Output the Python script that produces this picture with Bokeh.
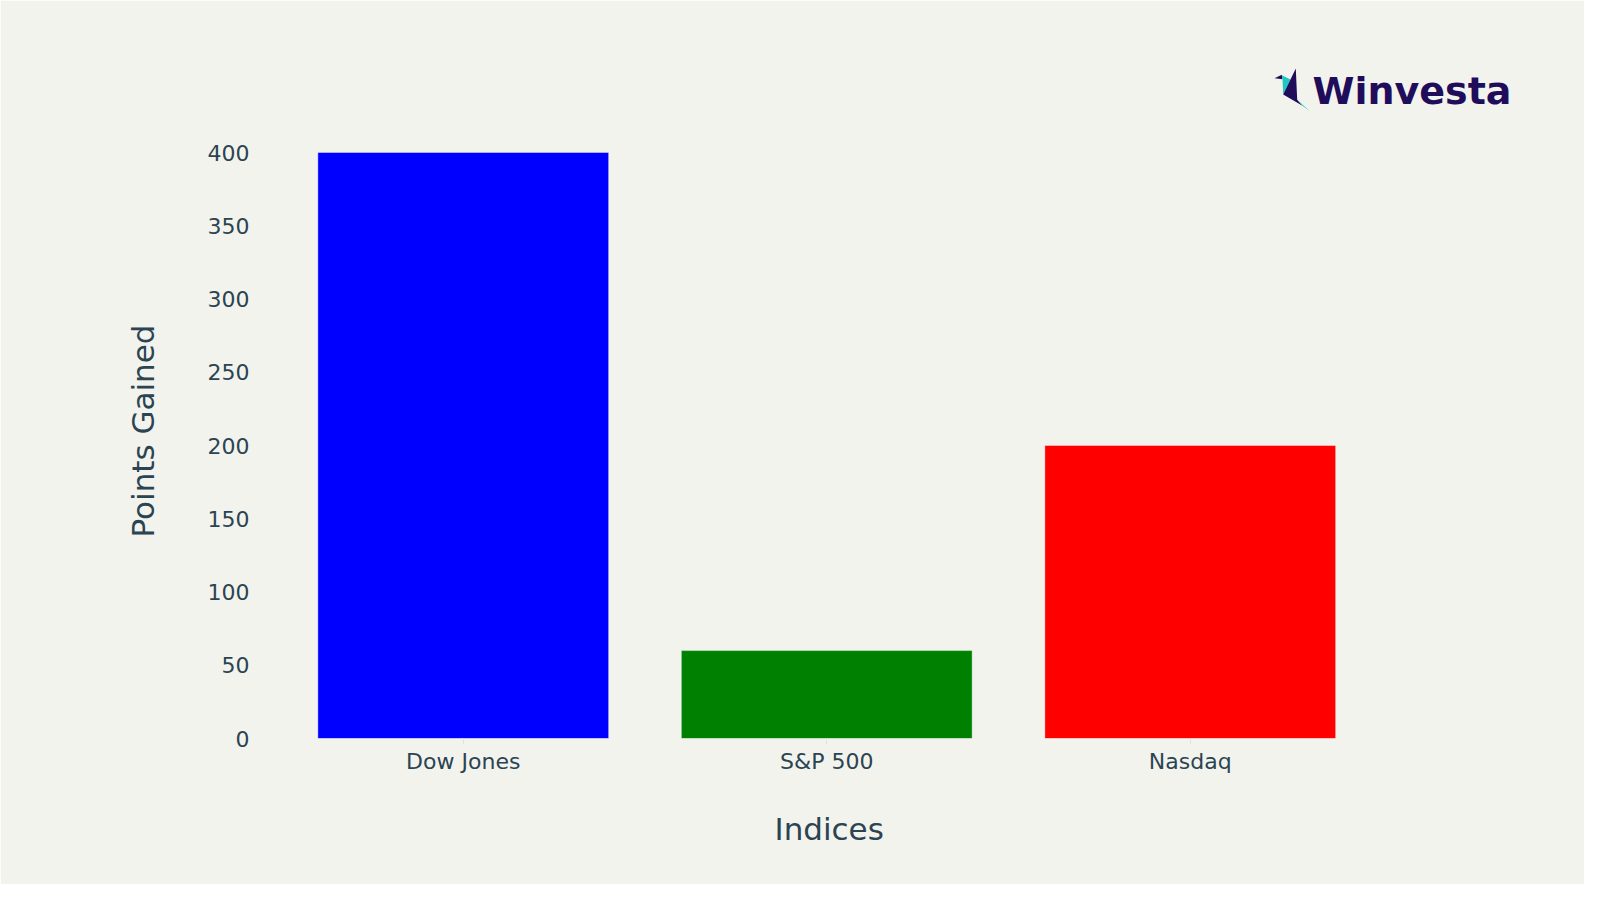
from bokeh.plotting import figure
from bokeh.models import Range1d, FixedTicker, Label, PolyAnnotation, ColumnDataSource, Title
from bokeh.embed import file_html
from bokeh.resources import INLINE

# ---- data ----
categories = ["Dow Jones", "S&P 500", "Nasdaq"]
points_gained = [400, 60, 200]
bar_colors = ["#0000ff", "#008000", "#ff0000"]
y_ticks = [0, 50, 100, 150, 200, 250, 300, 350, 400]
x_title = "Indices"
y_title = "Points Gained"
brand = "Winvesta"

# ---- style ----
BG = "#f3f3ee"
TEXT = "#2b4452"
NAVY = "#1f0d5b"
TEAL = "#1fc6c4"
FONT = "DejaVu Sans"

W, H = 1584, 884
FRAME_L, FRAME_R, FRAME_T, FRAME_B = 281, 1530, 28, 738
PX_PER_CAT = 363.5
PX_400 = 152  # pixel row of value 400

positions = list(range(len(categories)))
src = ColumnDataSource(dict(x=positions, val=points_gained, color=bar_colors))

x_start = -0.5
x_end = x_start + (FRAME_R - FRAME_L) / PX_PER_CAT
y_end = 400 * (FRAME_B - FRAME_T) / (FRAME_B - PX_400)

p = figure(
    width=W, height=H,
    x_range=Range1d(x_start, x_end),
    y_range=Range1d(0, y_end),
    output_backend="svg", toolbar_location=None,
    min_border_left=FRAME_L, min_border_right=W - FRAME_R,
    min_border_top=FRAME_T, min_border_bottom=H - FRAME_B,
    background_fill_color=BG, border_fill_color=BG,
    outline_line_color=BG, outline_line_width=2,
)

p.vbar(x="x", top="val", bottom=0, width=0.8, source=src,
       fill_color="color", line_color="white", line_alpha=0.4, line_width=1)

p.grid.visible = False

# y axis
p.yaxis.ticker = FixedTicker(ticks=y_ticks)
p.yaxis.axis_line_color = None
p.yaxis.major_tick_line_color = None
p.yaxis.minor_tick_line_color = None
p.yaxis.major_tick_out = 0
p.yaxis.minor_tick_out = 0
p.yaxis.major_tick_in = 0
p.yaxis.major_label_standoff = 32
p.yaxis.major_label_text_font = FONT
p.yaxis.major_label_text_font_size = "22px"
p.yaxis.major_label_text_color = TEXT

# x axis (category positions with their names as tick labels)
p.xaxis.ticker = FixedTicker(ticks=positions)
p.xaxis.major_label_overrides = {i: c for i, c in zip(positions, categories)}
p.xaxis.axis_line_color = None
p.xaxis.major_tick_line_color = "#e2e2dc"
p.xaxis.major_tick_out = 6
p.xaxis.major_tick_in = 0
p.xaxis.minor_tick_line_color = None
p.xaxis.major_label_standoff = 4
p.xaxis.major_label_text_font = FONT
p.xaxis.major_label_text_font_size = "22px"
p.xaxis.major_label_text_color = TEXT

# axis titles, placed as in the reference
p.add_layout(Title(text=x_title, align="left", offset=774 - FRAME_L, vertical_align="top",
                   standoff=68, text_font=FONT, text_font_size="31px",
                   text_font_style="normal", text_color=TEXT), "below")
p.add_layout(Title(text=y_title, align="left", offset=FRAME_B - 537, vertical_align="bottom",
                   standoff=87, text_font=FONT, text_font_size="31px",
                   text_font_style="normal", text_color=TEXT), "left")

# ---- brand logo (decoration, screen units relative to the frame) ----
def sx(v):
    return [x - FRAME_L for x in v]


def sy(v):
    return [FRAME_B - y for y in v]


logo_shapes = [
    (NAVY, [1274.0, 1281.3, 1282.0], [77.7, 74.3, 78.7]),
    (TEAL, [1281.3, 1290.0, 1282.7, 1282.0], [74.7, 79.0, 94.0, 78.7]),
    (NAVY, [1295.3, 1296.7, 1302.0, 1282.7], [68.0, 99.3, 105.3, 94.0]),
    (TEAL, [1296.7, 1309.3, 1302.0], [99.3, 110.7, 105.3]),
]
for col, xs, ys in logo_shapes:
    p.add_layout(PolyAnnotation(xs=sx(xs), ys=sy(ys), xs_units="screen", ys_units="screen",
                                fill_color=col, fill_alpha=1.0, line_color=None))

p.add_layout(Label(x=1312 - FRAME_L, y=FRAME_B - 90, x_units="screen", y_units="screen",
                   text=brand, text_font=FONT, text_font_size="38px", text_font_style="bold",
                   text_color=NAVY, text_baseline="alphabetic", text_align="left"))

open("out.html", "w").write(file_html(p, INLINE))
